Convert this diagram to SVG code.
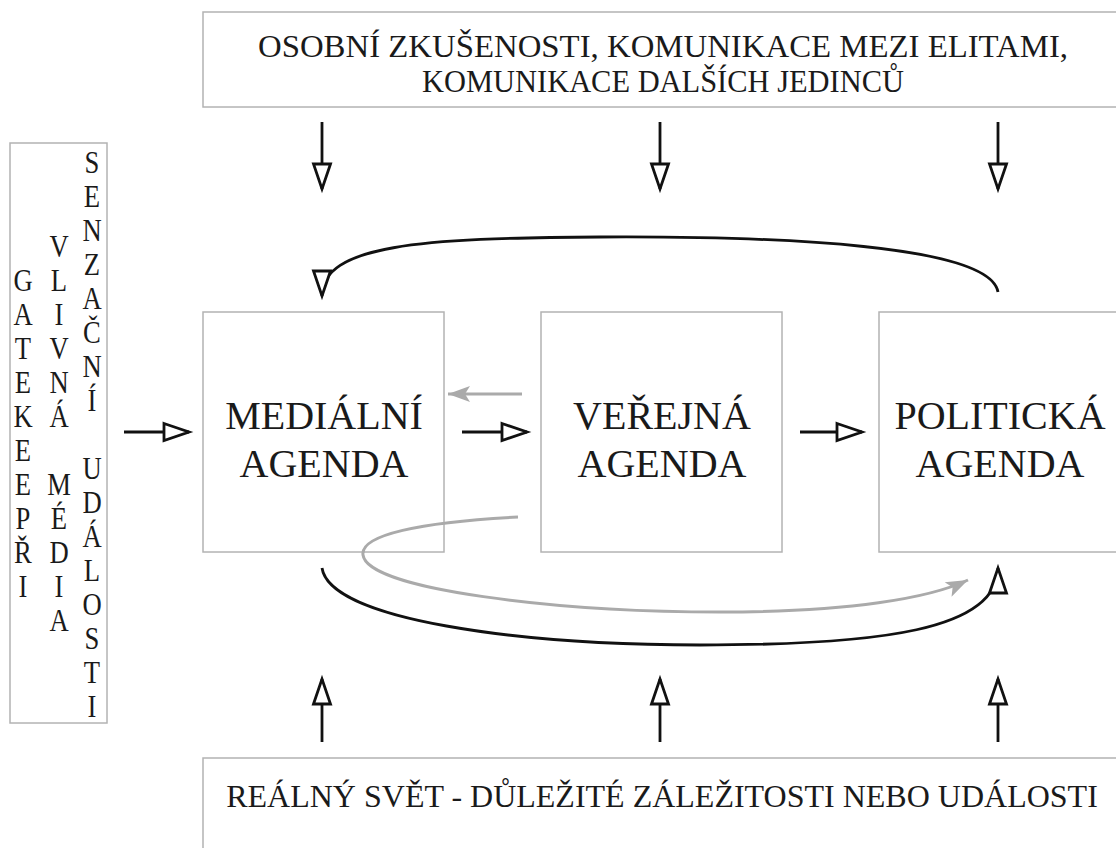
<svg xmlns="http://www.w3.org/2000/svg" width="1116" height="848" viewBox="0 0 1116 848">
<style>
.box{fill:#fff;stroke:#b3b3b3;stroke-width:1.5}
.t{font-family:"Liberation Serif","Times New Roman",serif;fill:#1a1a1a;text-anchor:middle}
.big{font-size:40px}
.mid{font-size:32px}
.vt{font-size:31px}
.arr{fill:none;stroke:#111;stroke-width:2.8}
.garr{fill:none;stroke:#aaa;stroke-width:3}
</style>
<defs>
<marker id="open" markerUnits="userSpaceOnUse" markerWidth="30" markerHeight="20" viewBox="0 0 30 20" refX="27" refY="10" orient="auto" overflow="visible">
<path d="M2,1.5 L27,10 L2,18.5 Z" fill="#fff" stroke="#111" stroke-width="2.8"/>
</marker>
<marker id="gray" markerUnits="userSpaceOnUse" markerWidth="24" markerHeight="18" viewBox="0 0 24 18" refX="22" refY="9" orient="auto" overflow="visible">
<path d="M0,1 L22,9 L0,17 L5,9 Z" fill="#aaa"/>
</marker>
</defs>

<g id="top-box">
<rect class="box" x="203" y="12" width="914" height="95"/>
<text class="t mid" x="663" y="57" textLength="810" lengthAdjust="spacingAndGlyphs">OSOBNÍ ZKUŠENOSTI, KOMUNIKACE MEZI ELITAMI,</text>
<text class="t mid" x="663" y="92" textLength="482" lengthAdjust="spacingAndGlyphs">KOMUNIKACE DALŠÍCH JEDINCŮ</text>
</g>

<g id="left-box">
<rect class="box" x="10" y="143" width="97" height="580"/>
<g transform="translate(23,0) scale(0.86,1)">
<text class="t vt"><tspan x="0" y="291">G</tspan><tspan x="0" y="325">A</tspan><tspan x="0" y="359">T</tspan><tspan x="0" y="393">E</tspan><tspan x="0" y="427">K</tspan><tspan x="0" y="461">E</tspan><tspan x="0" y="495">E</tspan><tspan x="0" y="529">P</tspan><tspan x="0" y="563">Ř</tspan><tspan x="0" y="597">I</tspan></text>
</g>
<g transform="translate(59,0) scale(0.86,1)">
<text class="t vt"><tspan x="0" y="257">V</tspan><tspan x="0" y="291">L</tspan><tspan x="0" y="325">I</tspan><tspan x="0" y="359">V</tspan><tspan x="0" y="393">N</tspan><tspan x="0" y="427">Á</tspan><tspan x="0" y="495">M</tspan><tspan x="0" y="529">É</tspan><tspan x="0" y="563">D</tspan><tspan x="0" y="597">I</tspan><tspan x="0" y="631">A</tspan></text>
</g>
<g transform="translate(92,0) scale(0.86,1)">
<text class="t vt"><tspan x="0" y="173">S</tspan><tspan x="0" y="207">E</tspan><tspan x="0" y="241">N</tspan><tspan x="0" y="275">Z</tspan><tspan x="0" y="309">A</tspan><tspan x="0" y="343">Č</tspan><tspan x="0" y="377">N</tspan><tspan x="0" y="411">Í</tspan><tspan x="0" y="479">U</tspan><tspan x="0" y="513">D</tspan><tspan x="0" y="547">Á</tspan><tspan x="0" y="581">L</tspan><tspan x="0" y="615">O</tspan><tspan x="0" y="649">S</tspan><tspan x="0" y="683">T</tspan><tspan x="0" y="717">I</tspan></text>
</g>
</g>

<g id="media-agenda">
<rect class="box" x="203" y="312" width="241" height="240"/>
<text class="t big" x="324" y="429">MEDIÁLNÍ</text>
<text class="t big" x="324" y="477">AGENDA</text>
</g>

<g id="public-agenda">
<rect class="box" x="541" y="312" width="241" height="240"/>
<text class="t big" x="662" y="429">VEŘEJNÁ</text>
<text class="t big" x="662" y="477">AGENDA</text>
</g>

<g id="political-agenda">
<rect class="box" x="879" y="312" width="238" height="240"/>
<text class="t big" x="1000" y="429">POLITICKÁ</text>
<text class="t big" x="1000" y="477">AGENDA</text>
</g>

<g id="bottom-box">
<rect class="box" x="203" y="758" width="914" height="91"/>
<text class="t mid" x="662" y="807">REÁLNÝ SVĚT - DŮLEŽITÉ ZÁLEŽITOSTI NEBO UDÁLOSTI</text>
</g>

<g id="connectors">
<line class="arr" x1="322" y1="122" x2="322" y2="189" marker-end="url(#open)"/>
<line class="arr" x1="660" y1="122" x2="660" y2="189" marker-end="url(#open)"/>
<line class="arr" x1="998" y1="122" x2="998" y2="189" marker-end="url(#open)"/>
<line class="arr" x1="322" y1="742" x2="322" y2="679" marker-end="url(#open)"/>
<line class="arr" x1="660" y1="742" x2="660" y2="679" marker-end="url(#open)"/>
<line class="arr" x1="998" y1="742" x2="998" y2="679" marker-end="url(#open)"/>
<line class="arr" x1="124" y1="432" x2="189" y2="432" marker-end="url(#open)"/>
<line class="arr" x1="462" y1="432" x2="527" y2="432" marker-end="url(#open)"/>
<line class="arr" x1="800" y1="432" x2="862" y2="432" marker-end="url(#open)"/>
<path class="arr" d="M998,292 C990,245 780,236 600,237 C420,238 322,245 322,296" marker-end="url(#open)"/>
<path class="arr" d="M322,568 C330,620 520,645 700,645 C880,645 998,630 998,568" marker-end="url(#open)"/>
<line class="garr" x1="522" y1="394" x2="448" y2="394" marker-end="url(#gray)"/>
<path class="garr" d="M518,517 C420,522 360,535 363,555 C368,590 560,612 720,612 C850,612 930,598 968,580" marker-end="url(#gray)"/>
</g>
</svg>
